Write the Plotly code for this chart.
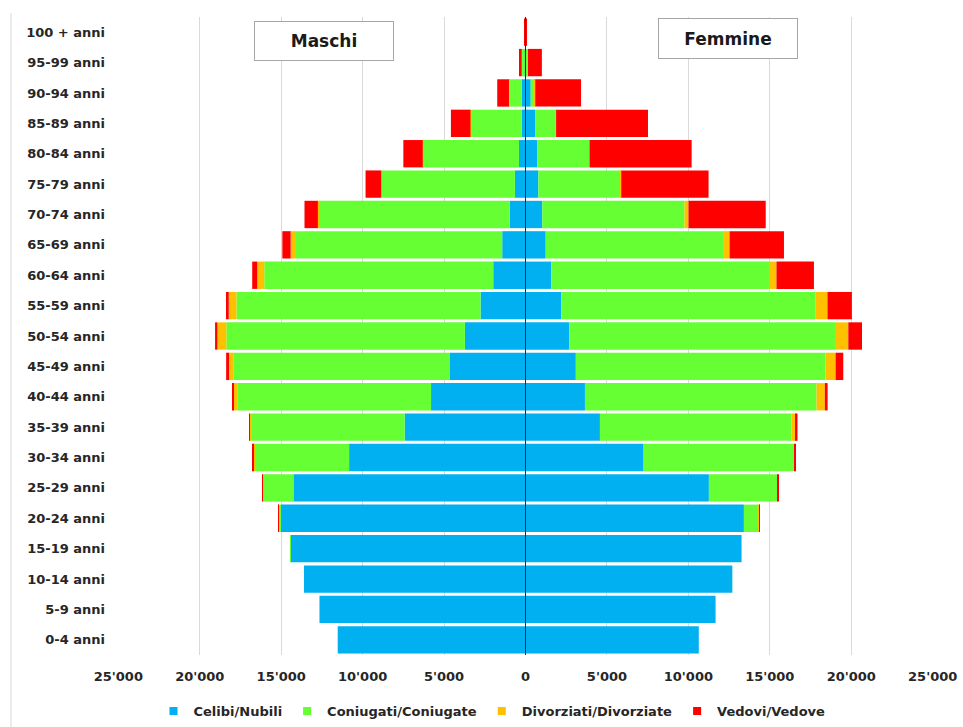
import plotly.graph_objects as go

# Age classes, youngest first (plotted bottom to top)
ages = ["0-4 anni", "5-9 anni", "10-14 anni", "15-19 anni", "20-24 anni",
        "25-29 anni", "30-34 anni", "35-39 anni", "40-44 anni", "45-49 anni",
        "50-54 anni", "55-59 anni", "60-64 anni", "65-69 anni", "70-74 anni",
        "75-79 anni", "80-84 anni", "85-89 anni", "90-94 anni", "95-99 anni",
        "100 + anni"]

# Males by civil status
m_celibi = [11530, 12650, 13600, 14440, 15010, 14250, 10830, 7420, 5800, 4670,
            3720, 2760, 1980, 1430, 970, 650, 400, 230, 230, 40, 3]
m_coniugati = [0, 0, 0, 10, 150, 1880, 5830, 9400, 11900, 13240,
               14650, 14990, 14060, 12720, 11710, 8170, 5890, 3140, 780, 190, 10]
m_divorziati = [0, 0, 0, 0, 20, 30, 60, 100, 230, 350,
                550, 470, 430, 270, 70, 40, 20, 10, 5, 0, 0]
m_vedovi = [0, 0, 0, 0, 10, 10, 20, 40, 60, 120,
            140, 170, 310, 510, 820, 960, 1190, 1200, 720, 170, 20]

# Females by civil status
f_nubili = [10640, 11670, 12700, 13250, 13410, 11260, 7250, 4570, 3650, 3090,
            2680, 2200, 1590, 1240, 1030, 790, 730, 590, 320, 60, 10]
f_coniugate = [0, 0, 0, 40, 920, 4210, 9180, 11760, 14220, 15330,
               16380, 15620, 13360, 10940, 8730, 5030, 3180, 1270, 260, 90, 5]
f_divorziate = [0, 0, 0, 0, 30, 30, 100, 250, 510, 620,
                760, 720, 460, 350, 250, 60, 30, 20, 20, 5, 0]
f_vedove = [0, 0, 0, 0, 20, 15, 30, 120, 170, 470,
            840, 1500, 2300, 3340, 4740, 5360, 6260, 5640, 2810, 850, 80]

status_names = ["Celibi/Nubili", "Coniugati/Coniugate",
                "Divorziati/Divorziate", "Vedovi/Vedove"]
status_colors = ["#00B0F0", "#66FF33", "#FFC000", "#FF0000"]

tick_values = [-25000, -20000, -15000, -10000, -5000, 0,
               5000, 10000, 15000, 20000, 25000]
tick_labels = ["25'000", "20'000", "15'000", "10'000", "5'000", "0",
               "5'000", "10'000", "15'000", "20'000", "25'000"]

FONT = "DejaVu Sans"
TEXT_COLOR = "#262626"

males = [m_celibi, m_coniugati, m_divorziati, m_vedovi]
females = [f_nubili, f_coniugate, f_divorziate, f_vedove]

fig = go.Figure()

# Males to the left (negative), females to the right; relative stacking
# pushes each civil status outward from the centre line.
for name, color, vals in zip(status_names, status_colors, males):
    fig.add_trace(go.Bar(
        y=ages, x=[-v for v in vals], orientation="h", name=name,
        marker=dict(color=color, line=dict(width=0)),
        showlegend=False, legendgroup=name,
    ))
for name, color, vals in zip(status_names, status_colors, females):
    fig.add_trace(go.Bar(
        y=ages, x=vals, orientation="h", name=name,
        marker=dict(color=color, line=dict(width=0)),
        showlegend=False, legendgroup=name,
    ))

# Small square legend keys
for name, color in zip(status_names, status_colors):
    fig.add_trace(go.Scatter(
        x=[None], y=[None], mode="markers", name=name, legendgroup=name,
        marker=dict(symbol="square", size=8, color=color),
        showlegend=True,
    ))

L, R, T, B = 118, 30, 17, 72
W, H = 963, 727
pw, ph = W - L - R, H - T - B


def px_x(x):
    return (x - L) / pw


def px_y(y):
    return (H - B - y) / ph


fig.update_layout(
    width=W, height=H,
    margin=dict(l=L, r=R, t=T, b=B, autoexpand=False),
    barmode="relative",
    bargap=0.1,
    plot_bgcolor="white",
    paper_bgcolor="white",
    font=dict(family=FONT, size=13, color=TEXT_COLOR),
    legend=dict(
        orientation="h", x=px_x(492), xanchor="center",
        yref="container", y=(H - 711) / H, yanchor="middle",
        font=dict(family=FONT, size=13, color=TEXT_COLOR, weight="bold"),
        itemwidth=30, traceorder="normal",
    ),
    xaxis=dict(
        range=[-25020, 25020],
        tickvals=tick_values, ticktext=tick_labels,
        tickfont=dict(family=FONT, size=13, color=TEXT_COLOR, weight="bold"),
        showgrid=True, gridcolor="#D9D9D9", gridwidth=1,
        zeroline=False,
        showline=False, ticks="", ticklabelstandoff=12,
        automargin=False, fixedrange=True,
    ),
    yaxis=dict(
        categoryorder="array", categoryarray=ages,
        tickfont=dict(family=FONT, size=13, color=TEXT_COLOR, weight="bold"),
        showgrid=False, zeroline=False, showline=False, ticks="",
        ticklabelstandoff=12,
        automargin=False, fixedrange=True,
    ),
    annotations=[
        dict(text="<b>Maschi</b>", xref="paper", yref="paper",
             x=px_x(324), y=px_y(40.7), xanchor="center", yanchor="middle",
             showarrow=False, width=136, height=36,
             bgcolor="white", bordercolor="#A6A6A6", borderwidth=1,
             font=dict(family=FONT, size=17, color="#1a1a1a")),
        dict(text="<b>Femmine</b>", xref="paper", yref="paper",
             x=px_x(727.7), y=px_y(38), xanchor="center", yanchor="middle",
             showarrow=False, width=136, height=37,
             bgcolor="white", bordercolor="#A6A6A6", borderwidth=1,
             font=dict(family=FONT, size=17, color="#1a1a1a")),
    ],
    shapes=[
        # outer chart frame edge on the left
        dict(type="line", xref="paper", yref="paper",
             x0=px_x(11), x1=px_x(11), y0=px_y(727), y1=px_y(13),
             line=dict(color="#D9D9D9", width=1)),
        # centre axis drawn over the bars
        dict(type="line", xref="x", yref="paper", layer="above",
             x0=0, x1=0, y0=0, y1=1,
             line=dict(color="#1F2A44", width=1)),
    ],
)

fig.write_html("out.html")
